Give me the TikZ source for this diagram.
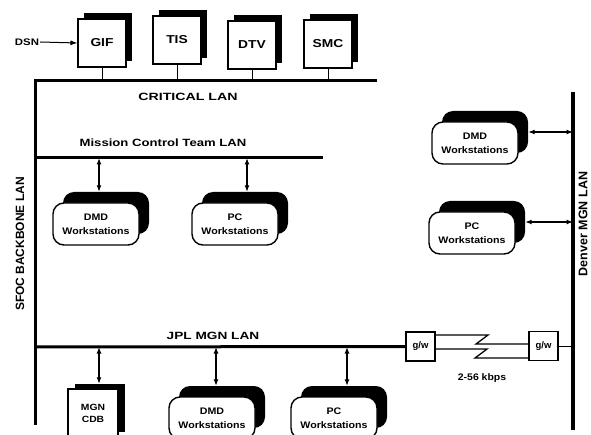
\documentclass[tikz,border=0pt]{standalone}
\usepackage{fontspec}
\setmainfont{Liberation Sans}
\usepackage{graphicx}
\usetikzlibrary{arrows.meta,calc}
\newcommand{\hs}[2][1.2]{\scalebox{#1}[1]{#2}}
\tikzset{
 lan/.style={line width=3pt,line join=miter},
 link/.style={line width=1pt},
 dbl/.style={line width=1.2pt,{Latex[length=6.5pt,width=5pt]}-{Latex[length=6.5pt,width=5pt]}},
 sbox/.style={draw,fill=white,line width=1.1pt,minimum width=48pt,minimum height=48pt,inner sep=0pt,font=\bfseries\fontsize{11.5}{12}\selectfont},
 sshadow/.style={fill=black,minimum width=48pt,minimum height=48pt,inner sep=0pt},
 ws/.style={draw,fill=white,line width=1.4pt,rounded corners=11pt,minimum width=86pt,minimum height=42pt,inner sep=0pt,align=center,font=\bfseries\fontsize{9.5}{14}\selectfont},
 wsshadow/.style={fill=black,rounded corners=11pt,minimum width=86pt,minimum height=42pt,inner sep=0pt},
 cdb/.style={draw,fill=white,line width=1.1pt,minimum width=50pt,minimum height=48pt,inner sep=0pt,align=center,font=\bfseries\fontsize{9}{12}\selectfont},
 cdbshadow/.style={fill=black,minimum width=50pt,minimum height=48pt,inner sep=0pt},
 lbl/.style={font=\bfseries\fontsize{10.5}{12}\selectfont,inner sep=0pt},
 vlbl/.style={font=\bfseries\fontsize{12}{12}\selectfont,inner sep=0pt,rotate=90},
 gw/.style={draw,fill=white,line width=1.1pt,minimum width=29pt,minimum height=29pt,inner sep=0pt,font=\bfseries\fontsize{9.5}{10}\selectfont},
 sm/.style={font=\bfseries\fontsize{9.5}{10}\selectfont,inner sep=1pt},
}
\begin{document}
\begin{tikzpicture}[x=1pt,y=-1pt]
\useasboundingbox (0,0) rectangle (591,435);
\begin{scope}
\clip (0,0) rectangle (591,435);
% LAN coordinates
\coordinate (critE) at (377,81);
\coordinate (crit) at (35,81);
\coordinate (bbS) at (35,425);
\coordinate (mct) at (35,158);
\coordinate (mctE) at (323,158);
\coordinate (jpl) at (35,347);
\coordinate (denN) at (573,92);
\coordinate (den) at (573,430);

% LAN lines
\draw[lan] (critE) -- (crit) -- (bbS);
\draw[lan] (mct) -- (mctE);
\draw[line width=3.5pt] (denN) -- (den);

% labels
\node[lbl] (critlbl) at (188,97) {\hs[1.35]{CRITICAL LAN}};
\node[lbl] (mctlbl) at (163,143) {\hs[1.25]{Mission Control Team LAN}};
\node[lbl] (jpllbl) at (213,336) {\hs[1.3]{JPL MGN LAN}};
\node[vlbl] (bblbl) at (20,244) {SFOC BACKBONE LAN};
\node[vlbl,font=\bfseries\fontsize{12.5}{13}\selectfont] (denlbl) at (583,224) {Denver MGN LAN};

% top systems
\foreach \n/\t/\x/\y in {gif/GIF/102/43, tis/TIS/177/40, dtv/DTV/252/45, smc/SMC/328/44}{
  \node[sshadow] (\n s) at (\x+6,\y-6) {};
  \node[sbox] (\n) at (\x,\y) {\hs[1.2]{\t}};
  \draw[link] (\n.south) -- (\n.south |- crit);
}
\node[sm] (dsn) at (27,42) {\hs{DSN}};
\draw[link,-{Latex[length=7pt,width=5pt]}] (dsn.east) -- (gif.west);

% workstations
\foreach \n/\a/\x/\y in {mdmd/DMD/96/224, mpc/PC/235/224, rdmd/DMD/475/143, rpc/PC/472/233, bdmd/DMD/212/418, bpc/PC/334/418}{
  \node[wsshadow] (\n s) at (\x+10,\y-11) {};
  \node[ws] (\n) at (\x,\y) {\hs[1.12]{\a}\\\hs[1.12]{Workstations}};
}
% MGN CDB
\node[cdbshadow] (cdbs) at (100,408) {};
\node[cdb] (cdb) at (93,413) {\hs[1.15]{MGN}\\\hs[1.15]{CDB}};

% arrows
\draw[dbl] ([xshift=-7pt]mdmds.north) -- ([xshift=-7pt]mdmds.north |- mct);
\draw[dbl] ([xshift=2pt]mpcs.north) -- ([xshift=2pt]mpcs.north |- mct);
\draw[dbl] (rdmds.east) -- (rdmds.east -| den);
\draw[dbl] (rpcs.east) -- (rpcs.east -| den);
\draw[dbl] ([xshift=-1pt]cdbs.north) -- ([xshift=-1pt]cdbs.north |- jpl);
\draw[dbl] ([xshift=-6pt]bdmds.north) -- ([xshift=-6pt]bdmds.north |- jpl);
\draw[dbl] ([xshift=3pt]bpcs.north) -- ([xshift=3pt]bpcs.north |- jpl);

% gateways
\node[gw] (g1) at (420.5,346.5) {g/w};
\node[gw] (g2) at (543.5,346) {g/w};
\draw[lan] (jpl) -- (g1.west);
\draw[link] (g2.east) -- (g2.east -| den);
\draw[link,line width=1.3pt] (g1.east |- 0,335) -- (488,335) -- (476,344) -- (g2.west |- 0,344);
\draw[link,line width=1.3pt] (g1.east |- 0,349) -- (487,349) -- (475,358) -- (g2.west |- 0,358);
\node[sm] (kbps) at (482,378) {\hs[1.1]{2-56 kbps}};
\end{scope}
\end{tikzpicture}
\end{document}
